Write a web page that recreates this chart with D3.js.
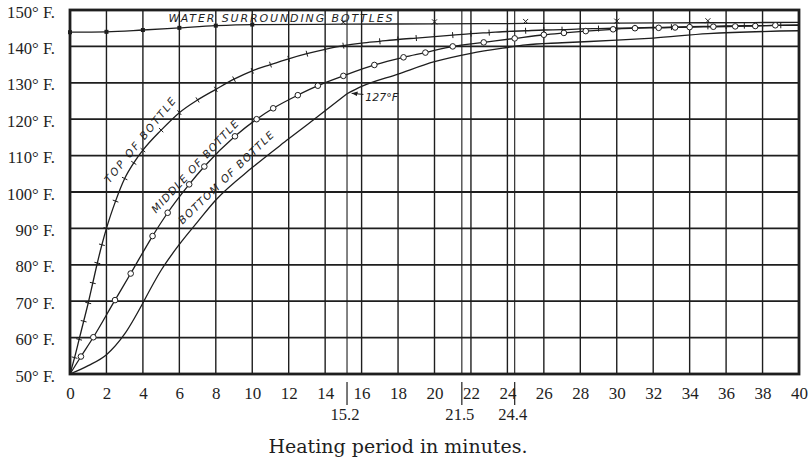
<!DOCTYPE html>
<html>
<head>
<meta charset="utf-8">
<script src="https://cdn.jsdelivr.net/npm/d3@7"></script>
<style>
  body { margin: 0; background: #fff; }
  svg { display: block; }
</style>
</head>
<body>
<div id="container"></div>
<script>
// readings: minutes of heating vs temperature (deg F)
const topMinutes = [0, 0.25, 0.5, 0.75, 1, 1.25, 1.5, 1.75, 2, 2.5, 3, 3.5, 4, 5, 6, 7, 8, 9, 10,
  11, 12, 13, 14, 15, 16, 17, 18, 19, 20, 21, 22, 23, 24, 25, 26, 27, 28, 29, 30,
  31, 32, 33, 34, 35, 36, 37, 38, 39, 40];
const topTemps = [50, 54.5, 59.5, 64.5, 69.5, 75, 80.5, 85.5, 90, 97.5, 103.7, 108, 111.5, 117, 121.8, 125.3, 128.2, 131, 133.3,
  135, 136.6, 138, 139.2, 140.2, 140.9, 141.4, 141.9, 142.3, 142.7, 143.1, 143.5, 143.8, 144.1, 144.3, 144.5, 144.6, 144.8, 144.9, 145,
  145.1, 145.2, 145.3, 145.4, 145.5, 145.6, 145.7, 145.7, 145.8, 145.8];

const middleMinutes = [0, 0.6, 1.28, 2.47, 3.33, 4.53, 5.36, 6.54, 7.37, 9.05, 10.24, 11.15, 12.5, 13.6, 15,
  16.7, 18.3, 19.5, 21, 22.7, 24.4, 26, 27.1, 28.3, 29.8, 31, 32.3, 33.2, 34, 35.3, 36.5, 37.6, 38.7, 40];
const middleTemps = [50, 54.8, 60.1, 70.3, 77.6, 87.9, 94.3, 102.1, 107, 115.3, 120, 123, 126.6, 129.2, 131.9,
  134.9, 137, 138.3, 140, 141.1, 142.2, 143.2, 143.7, 144.2, 144.7, 145, 145.1, 145.2, 145.3, 145.4, 145.5, 145.6, 145.8, 145.9];

const bottomMinutes = [0, 1, 2, 3, 4, 5, 6, 7, 8, 10, 12, 14, 15.2, 16, 18, 20, 22, 24, 25, 27, 30, 32, 35, 40];
const bottomTemps = [50, 52.3, 55.3, 61, 69.5, 78.5, 85.6, 91.8, 97.8, 106.7, 114.6, 122.3, 127, 129, 132.4, 135.8, 138.1, 139.7, 140.4, 141, 141.7, 142.3, 143.5, 144.3];
const bottomBreaks = [4, 15.2]; // corners in the bottom curve

const waterMinutes = [0, 2, 4, 6, 8, 10, 15, 20, 25, 30, 35, 40];
const waterTemps = [143.9, 144, 144.5, 145.1, 145.7, 146, 146.1, 146.2, 146.3, 146.4, 146.5, 146.6];

const xTicks = d3.range(0, 41, 2);
const yTicks = d3.range(50, 151, 10);
const markMinutes = [15.2, 21.5, 24.4];
const markLabels = ["15.2", "21.5", "24.4"];

const curveLabels = ["TOP OF BOTTLE", "MIDDLE OF BOTTLE", "BOTTOM OF BOTTLE"];
const waterLabel = "WATER SURROUNDING BOTTLES";
const kinkLabel = "127°F";
const axisTitle = "Heating period in minutes.";

const width = 811,
  height = 457;

const x = d3.scaleLinear().domain([0, 40]).range([70, 799]);
const y = d3.scaleLinear().domain([50, 150]).range([374, 10]);

const svg = d3
  .select("#container")
  .append("svg")
  .attr("width", width)
  .attr("height", height)
  .style("background", "#fff");

const ink = "#1e1e1e";
const serif = "'Liberation Serif', 'DejaVu Serif', serif";

//scale a group of labels so one of them comes out at the measured width
const fitWidth = (sel, probe, target) => {
  const w = probe.getComputedTextLength();
  const fs = parseFloat(window.getComputedStyle(probe).fontSize);
  if (w > 0) sel.style("font-size", (fs * target) / w + "px");
};

//grid
svg
  .append("g")
  .selectAll("line")
  .data(xTicks)
  .join("line")
  .attr("x1", (d) => x(d))
  .attr("x2", (d) => x(d))
  .attr("y1", y(50))
  .attr("y2", y(150))
  .attr("stroke", ink)
  .attr("stroke-width", 1.4);

svg
  .append("g")
  .selectAll("line")
  .data(markMinutes)
  .join("line")
  .attr("x1", (d) => x(d))
  .attr("x2", (d) => x(d))
  .attr("y1", y(50))
  .attr("y2", y(150))
  .attr("stroke", ink)
  .attr("stroke-width", 1.1);

svg
  .append("g")
  .selectAll("line")
  .data(yTicks)
  .join("line")
  .attr("x1", x(0))
  .attr("x2", x(40))
  .attr("y1", (d) => y(d))
  .attr("y2", (d) => y(d))
  .attr("stroke", ink)
  .attr("stroke-width", 1.8);

svg
  .append("rect")
  .attr("x", x(0))
  .attr("y", y(150))
  .attr("width", x(40) - x(0))
  .attr("height", y(50) - y(150))
  .attr("fill", "none")
  .attr("stroke", ink)
  .attr("stroke-width", 2.8);

//axes
const yAxis = svg
  .append("g")
  .attr("transform", `translate(${x(0)},0)`)
  .call(d3.axisLeft(y).tickValues(yTicks).tickSize(0).tickPadding(15).tickFormat((d) => d + "° F."));
yAxis.select(".domain").remove();
const yLabels = yAxis
  .selectAll("text")
  .attr("dy", "0.42em")
  .style("font-family", serif)
  .style("font-size", "16px")
  .attr("fill", ink);
fitWidth(yLabels, yLabels.nodes()[yLabels.size() - 1], 48);

const xAxis = svg
  .append("g")
  .attr("transform", `translate(0,${y(50)})`)
  .call(d3.axisBottom(x).tickValues(xTicks).tickSize(0).tickPadding(13));
xAxis.select(".domain").remove();
const xLabels = xAxis
  .selectAll("text")
  .style("font-family", serif)
  .style("font-size", "16px")
  .attr("fill", ink);
fitWidth(xLabels, xLabels.nodes()[xLabels.size() - 1], 17);

//the odd minute marks under the axis
svg
  .append("g")
  .selectAll("line")
  .data(markMinutes)
  .join("line")
  .attr("x1", (d) => x(d))
  .attr("x2", (d) => x(d))
  .attr("y1", y(50) + 8)
  .attr("y2", y(50) + 31)
  .attr("stroke", ink)
  .attr("stroke-width", 1.2);

const markText = svg
  .append("g")
  .selectAll("text")
  .data(markMinutes)
  .join("text")
  .attr("x", (d) => x(d) - 2)
  .attr("y", y(50) + 46)
  .attr("text-anchor", "middle")
  .style("font-family", serif)
  .style("font-size", "15px")
  .attr("fill", ink)
  .text((d, i) => markLabels[i]);
fitWidth(markText, markText.node(), 29);

svg
  .append("text")
  .attr("x", 398)
  .attr("y", 453)
  .attr("text-anchor", "middle")
  .style("font-family", "DejaVu Serif")
  .style("font-size", "19px")
  .attr("fill", ink)
  .text(axisTitle);

//curves
const toPoints = (mins, temps) => mins.map((m, i) => [m, temps[i]]);
const topData = toPoints(topMinutes, topTemps);
const middleData = toPoints(middleMinutes, middleTemps);
const bottomData = toPoints(bottomMinutes, bottomTemps);
const waterData = toPoints(waterMinutes, waterTemps);

const line = d3
  .line()
  .x((d) => x(d[0]))
  .y((d) => y(d[1]))
  .curve(d3.curveMonotoneX);

//bottom curve is drawn in pieces so its corners stay sharp
const cuts = [0, ...bottomBreaks, 40];
const bottomPieces = d3.pairs(cuts).map(([a, b]) => bottomData.filter((d) => d[0] >= a && d[0] <= b));

[waterData, topData, middleData, ...bottomPieces].forEach((data) => {
  svg
    .append("path")
    .datum(data)
    .attr("d", line)
    .attr("fill", "none")
    .attr("stroke", ink)
    .attr("stroke-width", 1.3);
});

//cross ticks on the top-of-bottle curve
const topTicks = topData.slice(1, -1).map((d, i) => {
  const a = topData[i],
    b = topData[i + 2];
  const ang = Math.atan2(y(b[1]) - y(a[1]), x(b[0]) - x(a[0])) + Math.PI / 2;
  return { cx: x(d[0]), cy: y(d[1]), dx: Math.cos(ang) * 3, dy: Math.sin(ang) * 3 };
});
svg
  .append("g")
  .selectAll("line")
  .data(topTicks)
  .join("line")
  .attr("x1", (d) => d.cx - d.dx)
  .attr("x2", (d) => d.cx + d.dx)
  .attr("y1", (d) => d.cy - d.dy)
  .attr("y2", (d) => d.cy + d.dy)
  .attr("stroke", ink)
  .attr("stroke-width", 1);

//open circles on the middle curve
svg
  .append("g")
  .selectAll("circle")
  .data(middleData.slice(1, -1))
  .join("circle")
  .attr("cx", (d) => x(d[0]))
  .attr("cy", (d) => y(d[1]))
  .attr("r", 2.8)
  .attr("fill", "#fff")
  .attr("stroke", ink)
  .attr("stroke-width", 1);

//water markers
svg
  .append("g")
  .selectAll("rect")
  .data(waterData.slice(0, 6))
  .join("rect")
  .attr("x", (d) => x(d[0]) - 2)
  .attr("y", (d) => y(d[1]) - 2)
  .attr("width", 4)
  .attr("height", 4)
  .attr("fill", ink);

const crossPath = (d) => {
  const cx = x(d[0]),
    cy = y(d[1]) - 2;
  return `M${cx - 2.5},${cy - 2.5}L${cx + 2.5},${cy + 2.5}M${cx - 2.5},${cy + 2.5}L${cx + 2.5},${cy - 2.5}`;
};
svg
  .append("g")
  .selectAll("path")
  .data(waterData.slice(6, -1))
  .join("path")
  .attr("d", crossPath)
  .attr("stroke", ink)
  .attr("stroke-width", 1);

//labels along the curves
const labelMinutes = [4.0, 7.0, 8.7];
const labelTemps = [113.6, 106.3, 103.2];
const labelAngles = [-51, -47, -44];
const labelLengths = [106, 122, 128];

svg
  .append("g")
  .selectAll("text")
  .data(curveLabels)
  .join("text")
  .attr(
    "transform",
    (d, i) => `translate(${x(labelMinutes[i])},${y(labelTemps[i])}) rotate(${labelAngles[i]})`
  )
  .attr("text-anchor", "middle")
  .attr("textLength", (d, i) => labelLengths[i])
  .attr("lengthAdjust", "spacing")
  .style("font-family", "DejaVu Sans")
  .style("font-style", "italic")
  .style("font-size", "10.5px")
  .attr("fill", ink)
  .text((d) => d);

svg
  .append("text")
  .attr("x", x(11.55))
  .attr("y", y(146.6))
  .attr("text-anchor", "middle")
  .attr("textLength", 224)
  .attr("lengthAdjust", "spacing")
  .style("font-family", "DejaVu Sans")
  .style("font-style", "italic")
  .style("font-size", "11px")
  .attr("fill", ink)
  .text(waterLabel);

//127 F note with arrow
svg
  .append("defs")
  .append("marker")
  .attr("id", "arrow")
  .attr("viewBox", "0 0 10 10")
  .attr("refX", 10)
  .attr("refY", 5)
  .attr("markerWidth", 6)
  .attr("markerHeight", 6)
  .attr("orient", "auto")
  .append("path")
  .attr("d", "M0,1L10,5L0,9z")
  .attr("fill", ink);

svg
  .append("line")
  .attr("x1", x(16.1))
  .attr("y1", y(126.8))
  .attr("x2", x(15.45))
  .attr("y2", y(127.1))
  .attr("stroke", ink)
  .attr("stroke-width", 1)
  .attr("marker-end", "url(#arrow)");

svg
  .append("text")
  .attr("x", x(16.2))
  .attr("y", y(125.1))
  .style("font-family", "DejaVu Sans")
  .style("font-style", "italic")
  .style("font-size", "11px")
  .attr("fill", ink)
  .text(kinkLabel);
</script>
</body>
</html>
